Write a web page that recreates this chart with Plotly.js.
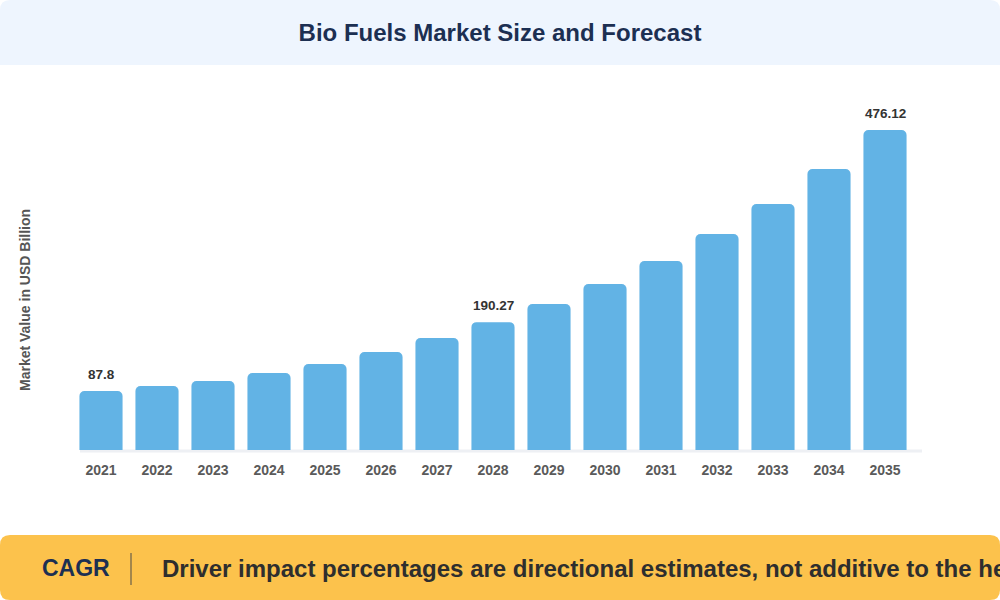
<!DOCTYPE html>
<html>
<head>
<meta charset="utf-8">
<script src="https://cdn.plot.ly/plotly-3.0.1.min.js"></script>
<style>
html,body{margin:0;padding:0;background:#ffffff;}
#chart{width:1000px;height:600px;}
</style>
</head>
<body>
<div id="chart"></div>
<script>
// ---- data ----
const years = ["2021","2022","2023","2024","2025","2026","2027","2028","2029","2030","2031","2032","2033","2034","2035"];
const values = [87.8, 95.2, 102.7, 114.6, 128.0, 145.8, 166.6, 190.27, 217.2, 247.0, 281.2, 321.4, 366.0, 418.1, 476.12];
const shownLabels = ["87.8","","","","","","","190.27","","","","","","","476.12"];

const titleText = "Bio Fuels Market Size and Forecast";
const yTitle = "Market Value in USD Billion";
const bannerLabel = "CAGR";
const bannerText = "Driver impact percentages are directional estimates, not additive to the headline CAGR";

// ---- layout geometry (pixels) ----
const W = 1000, H = 600;
const L = 73, R = 87, T = 100, B = 150;
const pw = W - L - R, ph = H - T - B;
const px = x => (x - L) / pw;
const py = y => 1 - (y - T) / ph;

function roundRect(x0, y0, x1, y1, rTop, rBot) {
  const p = [];
  p.push(`M ${px(x0)},${py(y0 + rTop)}`);
  p.push(`Q ${px(x0)},${py(y0)} ${px(x0 + rTop)},${py(y0)}`);
  p.push(`L ${px(x1 - rTop)},${py(y0)}`);
  p.push(`Q ${px(x1)},${py(y0)} ${px(x1)},${py(y0 + rTop)}`);
  p.push(`L ${px(x1)},${py(y1 - rBot)}`);
  p.push(`Q ${px(x1)},${py(y1)} ${px(x1 - rBot)},${py(y1)}`);
  p.push(`L ${px(x0 + rBot)},${py(y1)}`);
  p.push(`Q ${px(x0)},${py(y1)} ${px(x0)},${py(y1 - rBot)}`);
  p.push('Z');
  return p.join(' ');
}

const font = "Liberation Sans, Arial, Helvetica, sans-serif";

const trace = {
  type: 'bar',
  x: years,
  y: values,
  marker: {color: '#62B3E5', cornerradius: 5, line: {width: 0}},
  hoverinfo: 'x+y'
};

// category axis: annotation x is the serial index of the category
const valueAnnotations = years.map((yr, i) => ({
  xref: 'x', yref: 'y', x: i, y: values[i],
  xanchor: 'center', yanchor: 'bottom', yshift: 7,
  text: shownLabels[i], showarrow: false,
  font: {family: font, size: 13.5, color: '#333333', weight: 'bold'}
})).filter(a => a.text !== "");

const layout = {
  width: W, height: H,
  margin: {l: L, r: R, t: T, b: B, pad: 0},
  paper_bgcolor: '#ffffff',
  plot_bgcolor: 'rgba(0,0,0,0)',
  bargap: 0.23,
  showlegend: false,
  title: {
    text: titleText,
    x: 0.5, xanchor: 'center',
    y: 1 - 33 / H, yanchor: 'middle', yref: 'container',
    font: {family: font, size: 24, color: '#1C2F52', weight: 'bold'}
  },
  xaxis: {
    type: 'category',
    categoryorder: 'array', categoryarray: years,
    range: [-0.5, years.length - 0.5],
    showgrid: false, zeroline: false, showline: false,
    ticks: '', ticklen: 0,
    ticklabelstandoff: 10,
    tickfont: {family: font, size: 14, color: '#5A5A5A', weight: 'bold'},
    automargin: false
  },
  yaxis: {
    range: [0, 520.8],
    showgrid: false, zeroline: false, showline: false,
    showticklabels: false, ticks: '',
    automargin: false
  },
  shapes: [
    {type: 'path', xref: 'paper', yref: 'paper', path: roundRect(0, 0, 1000, 65, 10, 0),
     fillcolor: '#EEF5FE', line: {width: 0}, layer: 'below'},
    {type: 'path', xref: 'paper', yref: 'paper', path: roundRect(0, 535, 1000, 600, 10, 10),
     fillcolor: '#FCC24C', line: {width: 0}, layer: 'below'},
    {type: 'line', xref: 'paper', yref: 'paper', x0: px(80), x1: px(922), y0: py(451), y1: py(451),
     line: {color: '#EEF0F4', width: 3}, layer: 'below'},
    {type: 'line', xref: 'paper', yref: 'paper', x0: px(131), x1: px(131), y0: py(553), y1: py(585),
     line: {color: '#4A4A4A', width: 1}}
  ],
  annotations: valueAnnotations.concat([
    {xref: 'paper', yref: 'paper', x: px(25), y: py(300), xanchor: 'center', yanchor: 'middle',
     text: yTitle, showarrow: false, textangle: -90,
     font: {family: font, size: 14, color: '#555555', weight: 'bold'}},
    {xref: 'paper', yref: 'paper', x: px(40), y: py(568), xanchor: 'left', yanchor: 'middle',
     text: bannerLabel, showarrow: false,
     font: {family: font, size: 23, color: '#1C2F52', weight: 'bold'}},
    {xref: 'paper', yref: 'paper', x: px(160), y: py(568), xanchor: 'left', yanchor: 'middle',
     text: bannerText, showarrow: false,
     font: {family: font, size: 24, color: '#2E2E2E', weight: 'bold'}}
  ])
};

Plotly.newPlot('chart', [trace], layout, {displayModeBar: false, staticPlot: true});
</script>
</body>
</html>
